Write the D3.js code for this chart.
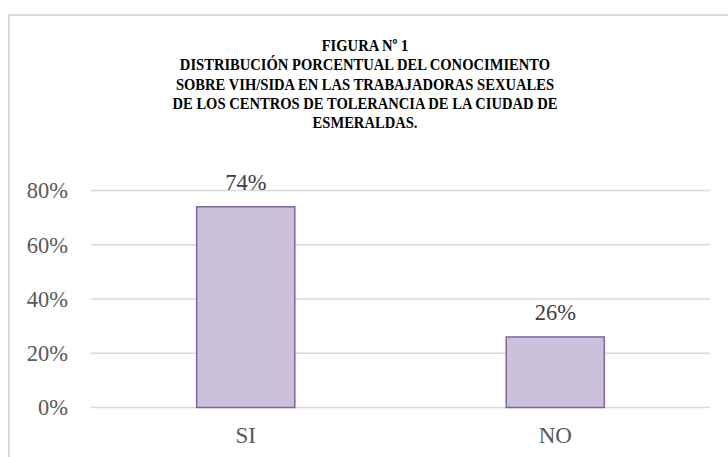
<!DOCTYPE html>
<html>
<head>
<meta charset="utf-8">
<script src="https://cdn.jsdelivr.net/npm/d3@7"></script>
<style>
  body { margin: 0; background: #fff; }
  svg { display: block; }
</style>
</head>
<body>
<div id="chart"></div>
<script>
// data
const categories = ["SI", "NO"];
const values = [0.74, 0.26];
const yTicks = [0, 0.2, 0.4, 0.6, 0.8];
const titleLines = [
  "FIGURA Nº 1",
  "DISTRIBUCIÓN PORCENTUAL DEL CONOCIMIENTO",
  "SOBRE VIH/SIDA EN LAS TRABAJADORAS SEXUALES",
  "DE LOS CENTROS DE TOLERANCIA DE LA CIUDAD DE",
  "ESMERALDAS."
];

const FONT = '"Liberation Serif", "Times New Roman", serif';
const width = 728, height = 457;
const plot = {left: 91, right: 710, top: 190.5, bottom: 407.5};

let svg = d3.select("#chart")
  .append("svg")
  .attr("width", width)
  .attr("height", height);

// outer chart border (runs off the right/bottom edge)
svg.append("rect")
  .attr("x", 9).attr("y", 15)
  .attr("width", 740).attr("height", 470)
  .attr("fill", "none")
  .attr("stroke", "#d9d9d9")
  .attr("stroke-width", 2);

// title, condensed bold serif
let title = svg.append("g");
let tText = title.append("text")
  .style("font-family", FONT)
  .style("font-weight", "bold")
  .style("font-size", "17.4px")
  .attr("fill", "#000")
  .attr("text-anchor", "middle");
titleLines.forEach(function(line, i) {
  tText.append("tspan")
    .attr("x", 0)
    .attr("y", 51 + i * 19.3)
    .text(line);
});
// squeeze to the width seen in the picture
let widest = 0;
tText.selectAll("tspan").each(function() {
  widest = Math.max(widest, this.getComputedTextLength());
});
let sx = 385 / widest;
title.attr("transform", `translate(365,0) scale(${sx},1)`);

let x = d3.scaleBand()
  .domain(categories)
  .range([plot.left, plot.right])
  .paddingInner(0.683)
  .paddingOuter(0.3415);

let y = d3.scaleLinear()
  .domain([0, 0.8])
  .range([plot.bottom, plot.top]);

// gridlines
svg.append("g")
  .selectAll("line")
  .data(yTicks)
  .enter()
  .append("line")
    .attr("x1", plot.left)
    .attr("x2", plot.right)
    .attr("y1", d => y(d))
    .attr("y2", d => y(d))
    .attr("stroke", "#d9d9d9")
    .attr("stroke-width", 1.3);

// y axis labels
let yAxis = svg.append("g")
  .attr("transform", `translate(${plot.left - 23},0)`)
  .call(d3.axisLeft(y).tickValues(yTicks).tickFormat(d3.format(".0%")).tickSize(0).tickPadding(0));
yAxis.select(".domain").remove();
yAxis.selectAll("text")
  .style("font-family", FONT)
  .style("font-size", "22.5px")
  .attr("fill", "#595959")
  .attr("dy", "0.33em");

// bars
svg.selectAll("rect.bar")
  .data(values)
  .enter()
  .append("rect")
    .attr("class", "bar")
    .attr("x", (d, i) => x(categories[i]))
    .attr("y", d => y(d))
    .attr("width", x.bandwidth())
    .attr("height", d => y(0) - y(d))
    .attr("fill", "#ccc1da")
    .attr("stroke", "#8064a2")
    .attr("stroke-width", 1.5);

// value labels
svg.selectAll("text.val")
  .data(values)
  .enter()
  .append("text")
    .attr("class", "val")
    .attr("x", (d, i) => x(categories[i]) + x.bandwidth() / 2)
    .attr("y", d => y(d) - 16.5)
    .attr("text-anchor", "middle")
    .style("font-family", FONT)
    .style("font-size", "22.5px")
    .attr("fill", "#404040")
    .text(d => d3.format(".0%")(d));

// x axis labels
let xAxis = svg.append("g")
  .attr("transform", `translate(0,${plot.bottom})`)
  .call(d3.axisBottom(x).tickSize(0).tickPadding(0));
xAxis.select(".domain").remove();
xAxis.selectAll("text")
  .style("font-family", FONT)
  .style("font-size", "23px")
  .attr("fill", "#595959")
  .attr("dy", null)
  .attr("y", 35.5);
</script>
</body>
</html>
